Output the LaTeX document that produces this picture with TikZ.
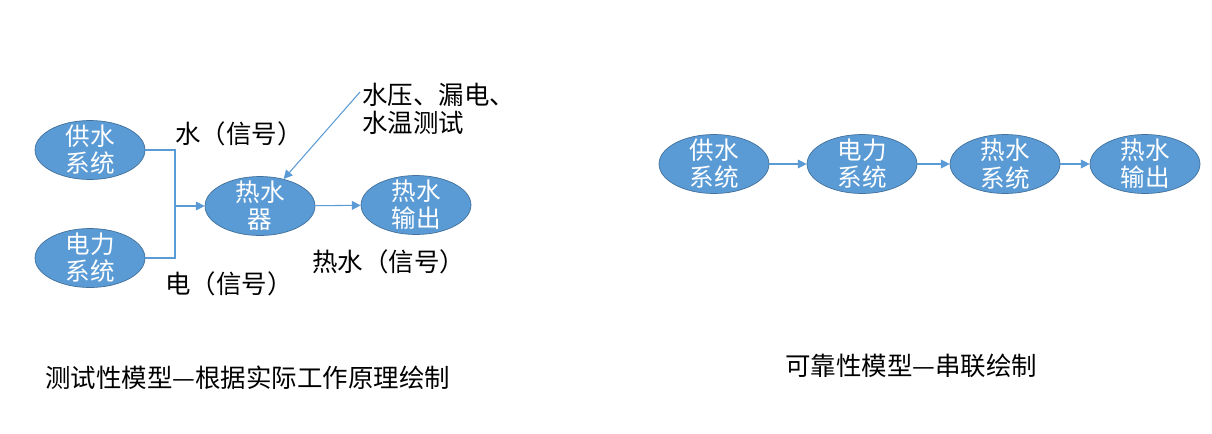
\documentclass[tikz,border=0pt]{standalone}
\usepackage{fontspec}
\newfontfamily\cjk{Noto Sans CJK SC}
\usepackage{tikz}
\usetikzlibrary{arrows.meta,shapes.geometric}
\definecolor{nodeblue}{HTML}{5B9BD5}
\definecolor{rimblue}{HTML}{41719C}

\begin{document}
\begin{tikzpicture}[
  x=0.02cm, y=-0.02cm,
  unit/.style={ellipse, draw=rimblue, fill=nodeblue, text=white, align=center,
    minimum width=2.2cm, minimum height=1.18cm, inner xsep=0pt, inner ysep=-6pt,
    font=\cjk\fontsize{14}{15.5}\selectfont},
  note/.style={anchor=west, inner sep=0pt, align=left,
    font=\cjk\fontsize{14.5}{16}\selectfont},
  caption/.style={anchor=west, inner sep=0pt, font=\cjk\fontsize{14.5}{16}\selectfont},
  link/.style={draw=nodeblue, line width=0.6pt},
  arrow/.style={link, -{Triangle[length=5pt,width=5pt]}}
]
\useasboundingbox (0,0) rectangle (1212,433);
% test model
\node (water) [unit] at (90,150) {供水\\系统};
\node (power) [unit] at (90,258) {电力\\系统};
\node (heater) [unit] at (260,206) {热水\\器};
\node (out) [unit] at (416,205) {热水\\输出};
\coordinate (join) at (175,206);
\coordinate (tip) at (360,92);
\draw[link] (water.east) -| (join);
\draw[link] (power.east) -| (join);
\draw[arrow] (join) -- (heater);
\draw[arrow] (heater) -- (out);
\draw[arrow] (tip) -- (heater);
\node (lw) [note] at (175,134) {水（信号）};
\node (le) [note] at (165,284) {电（信号）};
\node (lh) [note] at (312,262) {热水（信号）};
\node (lt) [note] at (362,109) {水压、漏电、\\水温测试};
\node (c1) [caption] at (45,378) {测试性模型—根据实际工作原理绘制};
% reliability model
\node (r1) [unit] at (714,164) {供水\\系统};
\node (r2) [unit] at (862,164) {电力\\系统};
\node (r3) [unit] at (1005,164) {热水\\系统};
\node (r4) [unit] at (1145,164) {热水\\输出};
\draw[arrow] (r1) -- (r2);
\draw[arrow] (r2) -- (r3);
\draw[arrow] (r3) -- (r4);
\node (c2) [caption] at (785,366) {可靠性模型—串联绘制};
\end{tikzpicture}
\end{document}
